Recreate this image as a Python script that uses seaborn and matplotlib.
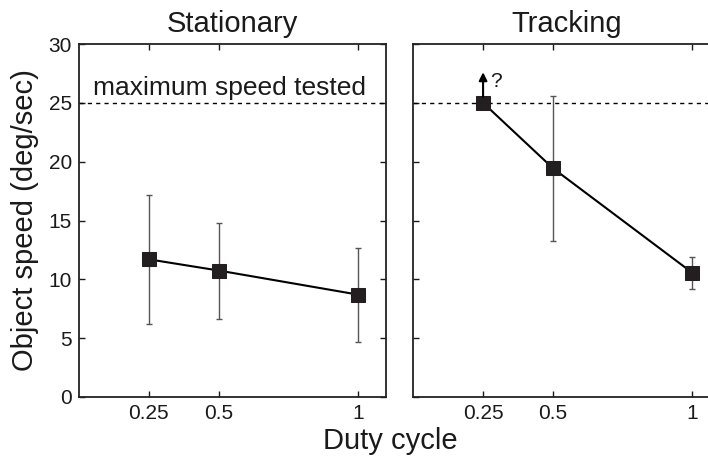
import numpy as np
import pandas as pd
import matplotlib
matplotlib.use("Agg")
import matplotlib.pyplot as plt
import seaborn as sns

duty = [0.25, 0.5, 1.0]
stat_speed = [11.7, 10.75, 8.7]
stat_upper = [17.2, 14.8, 12.7]
stat_lower = [6.2, 6.65, 4.7]
track_speed = [25.0, 19.45, 10.55]
track_upper = [np.nan, 25.6, 11.9]
track_lower = [np.nan, 13.3, 9.2]
panel_titles = ["Stationary", "Tracking"]
max_speed = 25
xticks = [0.25, 0.5, 1]
xticklabels = ["0.25", "0.5", "1"]
yticks = [0, 5, 10, 15, 20, 25, 30]

sns.set_theme(style="ticks")
plt.rcParams["font.family"] = ["Liberation Sans", "DejaVu Sans"]
plt.rcParams["text.color"] = "#1a1a1a"

W, H = 708, 458
fig = plt.figure(figsize=(W / 100, H / 100), dpi=100)
ax_l = fig.add_axes([79 / W, 1 - 397 / H, (386 - 79) / W, (397 - 44) / H])
ax_r = fig.add_axes([413.3 / W, 1 - 397 / H, (386 - 79) / W, (397 - 44) / H])

mk = "#231f20"
datasets = [
    (ax_l, stat_speed, stat_upper, stat_lower),
    (ax_r, track_speed, track_upper, track_lower),
]
for i, (ax, sp, up, lo) in enumerate(datasets):
    df = pd.DataFrame({"duty": duty, "speed": sp})
    up = np.array(up)
    lo = np.array(lo)
    spa = np.array(sp)
    ax.errorbar(duty, sp, yerr=[spa - lo, up - spa], fmt="none",
                ecolor="#555555", elinewidth=1.0, capsize=2, capthick=1.0, zorder=2)
    sns.lineplot(data=df, x="duty", y="speed", ax=ax, color="black", lw=1.5,
                 marker="s", markersize=9.5, markerfacecolor=mk,
                 markeredgecolor=mk, zorder=3)
    ax.axhline(max_speed, color="black", lw=1.0, ls=(0, (3, 3)), zorder=1)
    ax.set_xlim(0, 1.1)
    ax.set_ylim(0, 30)
    ax.set_xticks(xticks)
    ax.set_xticklabels(xticklabels)
    ax.set_yticks(yticks)
    ax.tick_params(direction="in", length=4, width=1.0, top=True, right=True,
                   labelsize=15, colors="#1a1a1a", pad=5)
    for s in ax.spines.values():
        s.set_linewidth(1.3)
        s.set_color("#222222")
    ax.set_xlabel("")
    ax.set_ylabel("")
    ax.set_title(panel_titles[i], fontsize=21, pad=9, color="#1a1a1a")

ax_r.tick_params(labelleft=False)
ax_l.set_ylabel("Object speed (deg/sec)", fontsize=21, labelpad=7, color="#1a1a1a")

ax_l.text(0.54, 26.3, "maximum speed tested", ha="center", va="center", fontsize=19)

ax_r.annotate("", xy=(0.25, 27.6), xytext=(0.25, 25.5),
              arrowprops=dict(arrowstyle="-|>", color="black", lw=1.5,
                              mutation_scale=12, shrinkA=0, shrinkB=0))
ax_r.text(0.275, 26.8, "?", ha="left", va="center", fontsize=15)

fig.text(390 / W, 1 - 441 / H, "Duty cycle", ha="center", va="center", fontsize=21)

fig.savefig("out.png", dpi=100)
